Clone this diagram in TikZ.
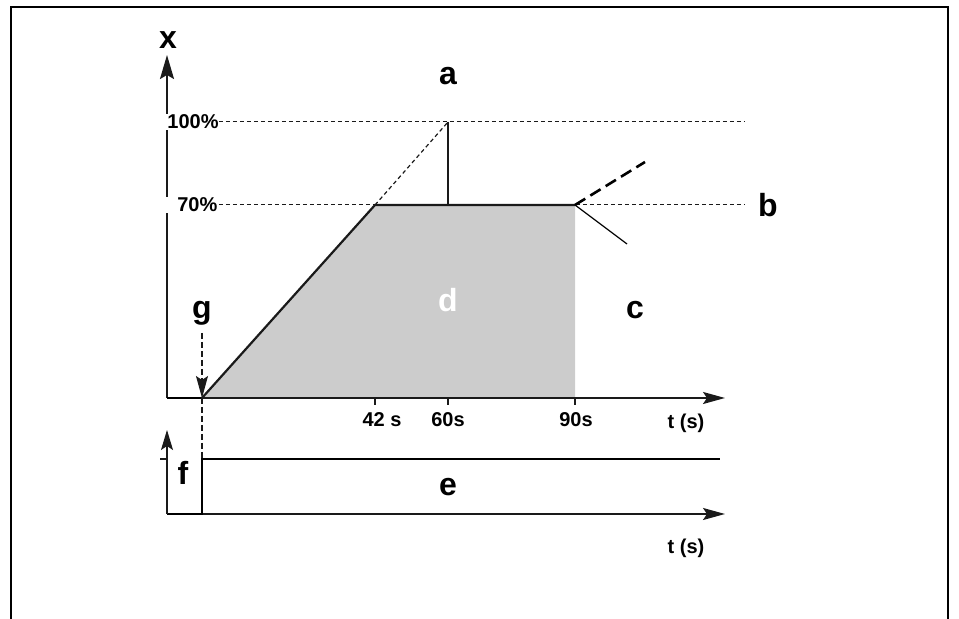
\documentclass[tikz,border=0pt]{standalone}
\usepackage{fontspec}
\setmainfont{Liberation Sans}
\usetikzlibrary{arrows.meta}

\begin{document}
\begin{tikzpicture}[x=0.5pt,y=-0.5pt]

% Colori
\definecolor{colArea}{HTML}{CCCCCC}
\definecolor{lineDark}{HTML}{1A1A1A}

% Stili
\tikzset{
  asse/.style={lineDark, line width=0.9pt, -{Stealth[length=11pt,width=6pt,inset=2pt]}},
  guida/.style={lineDark, line width=0.5pt, dash pattern=on 2pt off 1.5pt},
  segnale/.style={black, line width=1.4pt},
  lettera/.style={font=\fontsize{16}{16}\selectfont\bfseries},
  valore/.style={font=\fontsize{10}{10}\selectfont\bfseries},
}

\useasboundingbox (0,0) rectangle (959,619);

% Cornice
\draw[line width=1.3pt] (11,619) -- (11,7) -- (948,7) -- (948,619);

% Punti del grafico
\coordinate (O) at (202,398);
\coordinate (A70) at (375,205);
\coordinate (A100) at (448,122);
\coordinate (M70) at (448,205);
\coordinate (F70) at (575,205);
\coordinate (F0) at (575,398);

% Area
\fill[colArea] (O) -- (A70) -- (F70) -- (F0) -- cycle;

% Assi
\draw[asse, -{Stealth[length=12pt,width=7pt,inset=2pt]}] (167,398) -- (167,55);
\draw[asse] (O) -- (725,398);
\draw[segnale, line width=1.2pt] (167,398) -- (O);
\node[lettera] (x) at (168,40) {x};

% Livelli
\node[valore, anchor=west, fill=white, text width=25pt, align=right, inner sep=0.5pt] (lab100) at (166,122) {100\%};
\node[valore, anchor=west, fill=white, text width=25pt, align=right, inner sep=0.5pt] (lab70) at (166,205) {70\%};
\coordinate (fine100) at (745,122);
\coordinate (fine70) at (745,205);
\draw[guida] (lab100.east) -- (fine100);
\draw[guida] (lab70.east) -- (fine70);

% Rampa e plateau
\draw[lineDark, line width=1.1pt] (O) -- (A70) -- (F70);
\draw[lineDark, line width=0.6pt, dash pattern=on 2pt off 1.5pt] (A70) -- (A100);
\draw[lineDark, line width=0.6pt] (A100) -- (M70);
\draw[black, line width=1.3pt, dash pattern=on 6pt off 3pt] (F70) -- (645,162);
\draw[black, line width=0.6pt] (F70) -- (627,244);

% Tacche
\foreach \xx/\lx/\tt/\nn in {375/382/42 s/t42, 448/448/60s/t60, 575/576/90s/t90}{
  \draw[lineDark, line width=0.6pt] (\xx,398) -- (\xx,405);
  \node[valore] (\nn) at (\lx,420) {\tt};
}
\node[valore] (ts1) at (686,423) {t (s)};

% Avvio
\draw[lineDark, line width=0.6pt, dash pattern=on 3pt off 1.5pt,
  -{Stealth[length=11pt,width=6pt,inset=2pt]}] (202,333) -- (O);
\draw[lineDark, line width=0.6pt, dash pattern=on 3pt off 1.5pt] (O) -- (202,459);

% Segnale a gradino
\draw[asse] (202,514) -- (725,514);
\draw[segnale] (167,514) -- (202,514) -- (202,459) -- (720,459);
\draw[lineDark, line width=0.6pt, -{Stealth[length=10pt,width=6pt,inset=2pt]}] (167,514) -- (167,430);
\draw[lineDark, line width=0.6pt] (160,459) -- (167,459);
\node[valore] (ts2) at (686,548) {t (s)};

% Lettere
\node[lettera] (a) at (448,76) {a};
\node[lettera] (b) at (768,205) {b};
\node[lettera] (c) at (635,310) {c};
\node[lettera, text=white] (d) at (448,300) {d};
\node[lettera] (e) at (448,487) {e};
\node[lettera] (f) at (183,473) {f};
\node[lettera] (g) at (202,313) {g};

\end{tikzpicture}
\end{document}
